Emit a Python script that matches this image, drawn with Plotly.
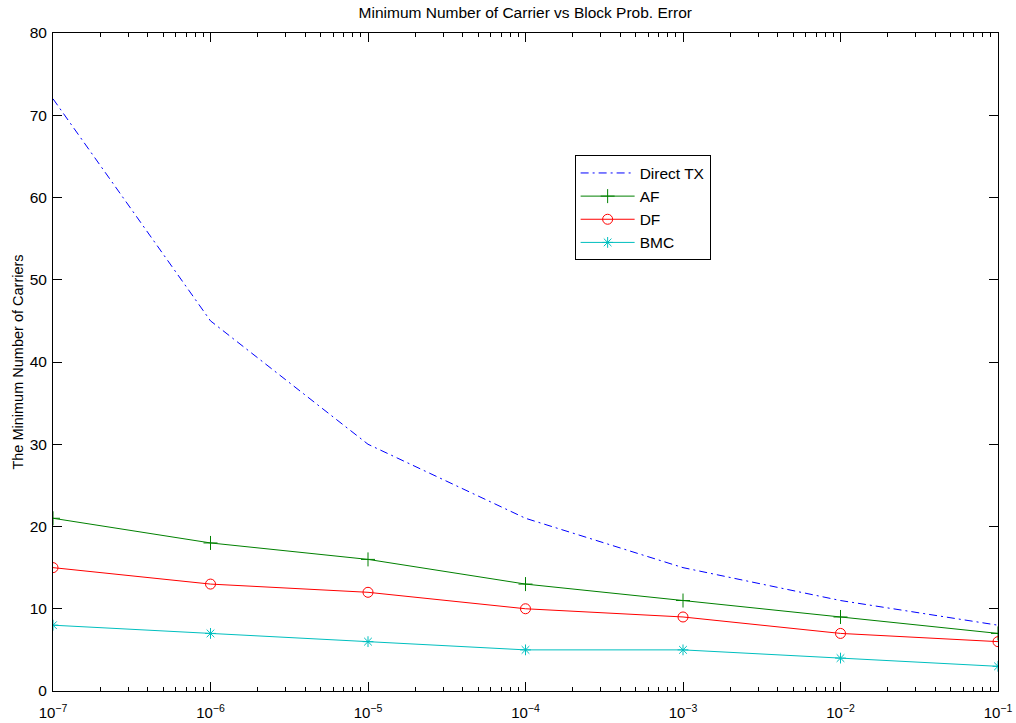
import plotly.graph_objects as go

# Block error probability targets and minimum carrier counts per scheme
block_error = [1e-7, 1e-6, 1e-5, 1e-4, 1e-3, 1e-2, 1e-1]
direct_tx = [72, 45, 30, 21, 15, 11, 8]
af = [21, 18, 16, 13, 11, 9, 7]
df = [15, 13, 12, 10, 9, 7, 6]
bmc = [8, 7, 6, 5, 5, 4, 3]

x_tick_vals = [1e-7, 1e-6, 1e-5, 1e-4, 1e-3, 1e-2, 1e-1]
x_tick_text = ["10<sup>−7</sup>", "10<sup>−6</sup>", "10<sup>−5</sup>", "10<sup>−4</sup>",
               "10<sup>−3</sup>", "10<sup>−2</sup>", "10<sup>−1</sup>"]
y_tick_vals = [0, 10, 20, 30, 40, 50, 60, 70, 80]

minor_vals = [m * 10.0 ** e for e in range(-7, -1) for m in range(2, 10)]

FONT = "Liberation Sans, Arial, Helvetica, sans-serif"

fig = go.Figure()
fig.add_trace(go.Scatter(
    x=block_error, y=direct_tx, name="Direct TX", mode="lines",
    line=dict(color="#0000ff", width=1, dash="8px,4px,2px,4px"),
))
fig.add_trace(go.Scatter(
    x=block_error, y=af, name="AF", mode="lines+markers",
    line=dict(color="#008000", width=1),
    marker=dict(symbol="cross-thin-open", size=10, line=dict(color="#008000", width=1)),
))
fig.add_trace(go.Scatter(
    x=block_error, y=df, name="DF", mode="lines+markers",
    line=dict(color="#ff0000", width=1),
    marker=dict(symbol="circle-open", size=10, color="#ff0000", line=dict(color="#ff0000", width=1)),
))
fig.add_trace(go.Scatter(
    x=block_error, y=bmc, name="BMC", mode="lines+markers",
    line=dict(color="#00bfbf", width=1),
    marker=dict(symbol="asterisk-open", size=9, line=dict(color="#00bfbf", width=1)),
))

fig.update_layout(
    width=1016, height=723,
    margin=dict(l=53, r=18, t=33, b=32),
    paper_bgcolor="white", plot_bgcolor="white",
    font=dict(family=FONT, color="black", size=15),
    title=dict(text="Minimum Number of Carrier vs Block Prob. Error",
               font=dict(size=15.5), x=0.517, xanchor="center", y=0.982, yanchor="middle"),
    showlegend=True,
    legend=dict(x=0.552, y=0.814, xanchor="left", yanchor="top",
                bgcolor="white", bordercolor="black", borderwidth=1,
                font=dict(size=15.5), tracegroupgap=0, itemwidth=54),
)
fig.update_xaxes(
    type="log", range=[-7, -1], automargin=False,
    tickmode="array", tickvals=x_tick_vals, ticktext=x_tick_text,
    ticks="inside", ticklen=9, tickcolor="black", tickwidth=1,
    showline=True, linecolor="black", linewidth=1, mirror="allticks",
    showgrid=False, zeroline=False,
    tickfont=dict(size=15), ticklabelstandoff=8,
    minor=dict(tickmode="array", tickvals=minor_vals, ticks="inside",
               ticklen=4, tickcolor="black", tickwidth=1, showgrid=False),
)
fig.update_yaxes(
    range=[0, 80], tickmode="array", tickvals=y_tick_vals, automargin=False,
    ticks="inside", ticklen=9, tickcolor="black", tickwidth=1,
    showline=True, linecolor="black", linewidth=1, mirror="allticks",
    showgrid=False, zeroline=False,
    tickfont=dict(size=15.5), ticklabelstandoff=2,
    title=dict(text="The Minimum Number of Carriers", font=dict(size=14.5), standoff=2),
)

fig.write_html("out.html")
